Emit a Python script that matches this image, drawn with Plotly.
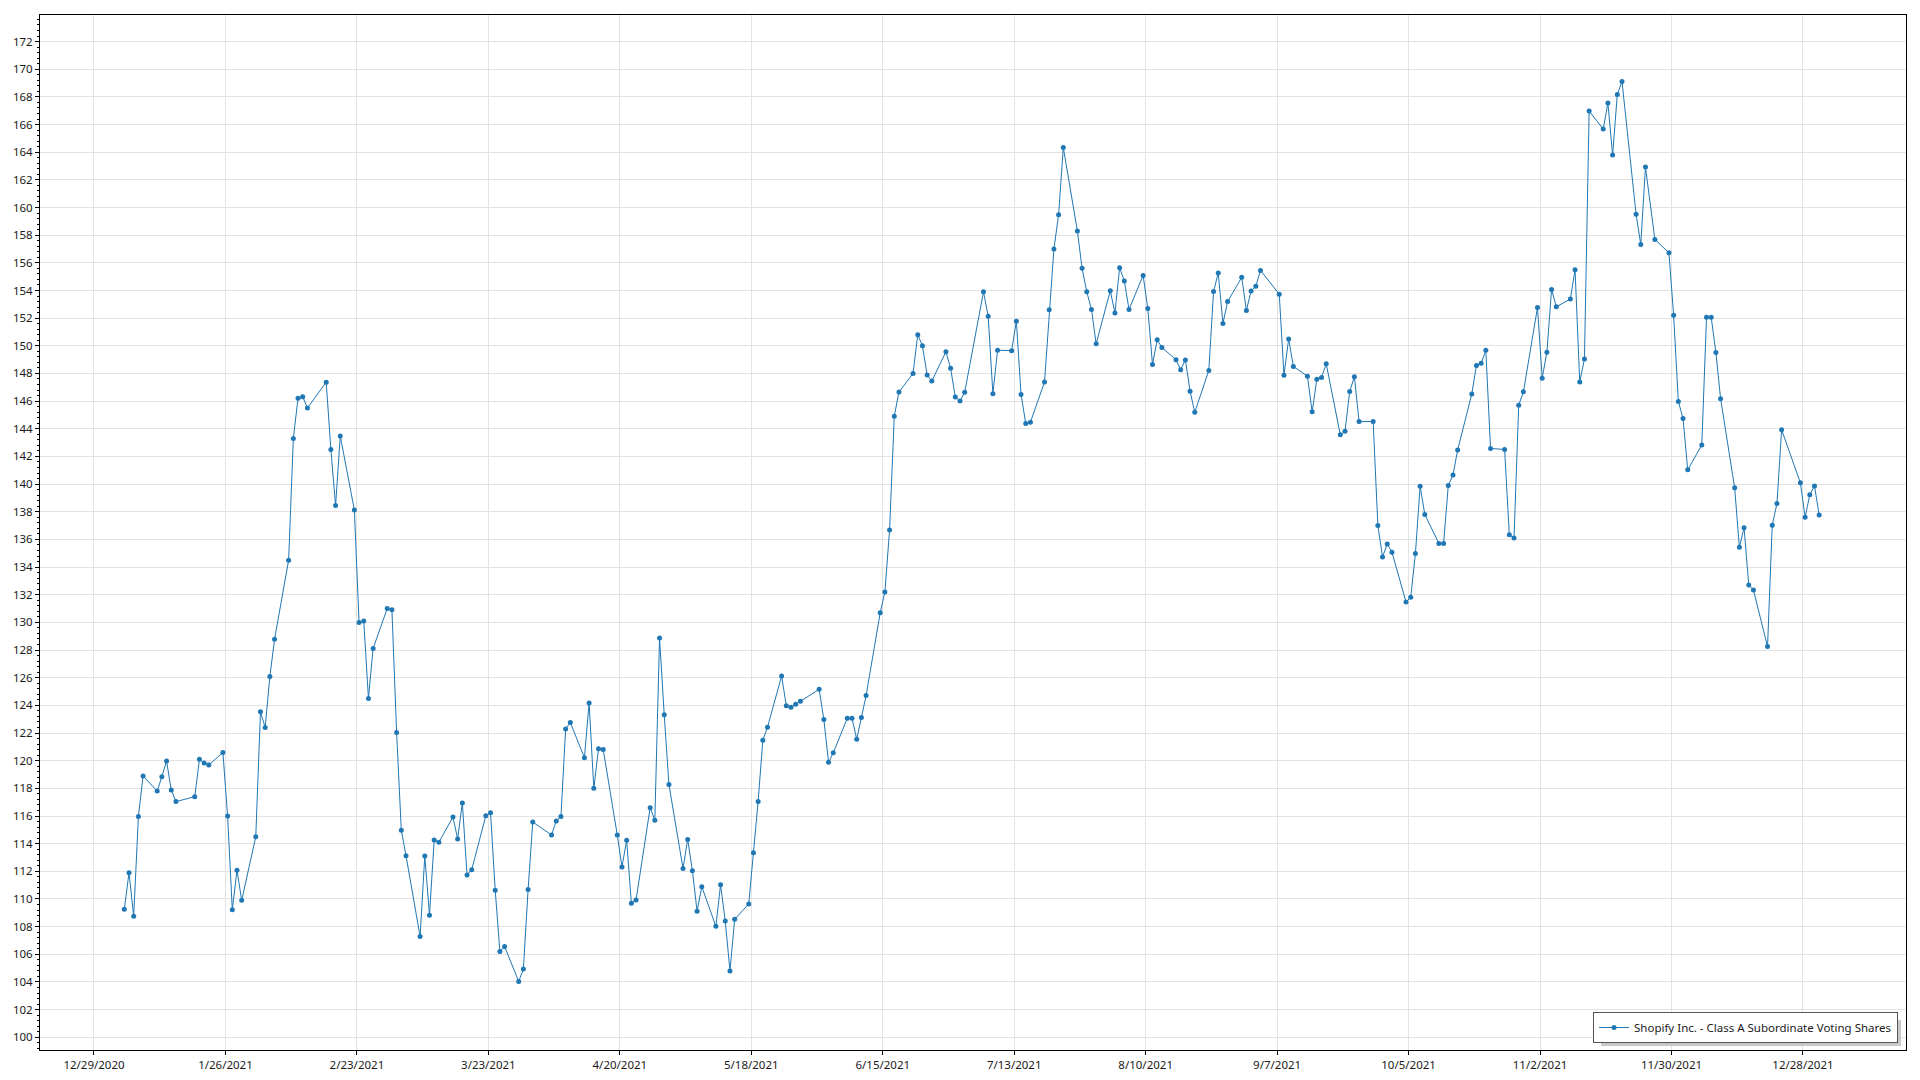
import pandas as pd
import plotly.graph_objects as go

SERIES_NAME = "Shopify Inc. - Class A Subordinate Voting Shares"

dates = [
    "2021-01-04", "2021-01-05", "2021-01-06", "2021-01-07", "2021-01-08", "2021-01-11", "2021-01-12",
    "2021-01-13", "2021-01-14", "2021-01-15", "2021-01-19", "2021-01-20", "2021-01-21", "2021-01-22",
    "2021-01-25", "2021-01-26", "2021-01-27", "2021-01-28", "2021-01-29",
    "2021-02-01", "2021-02-02", "2021-02-03", "2021-02-04", "2021-02-05", "2021-02-08", "2021-02-09",
    "2021-02-10", "2021-02-11", "2021-02-12", "2021-02-16", "2021-02-17", "2021-02-18", "2021-02-19",
    "2021-02-22", "2021-02-23", "2021-02-24", "2021-02-25", "2021-02-26",
    "2021-03-01", "2021-03-02", "2021-03-03", "2021-03-04", "2021-03-05", "2021-03-08", "2021-03-09",
    "2021-03-10", "2021-03-11", "2021-03-12", "2021-03-15", "2021-03-16", "2021-03-17", "2021-03-18",
    "2021-03-19", "2021-03-22", "2021-03-23", "2021-03-24", "2021-03-25", "2021-03-26", "2021-03-29",
    "2021-03-30", "2021-03-31",
    "2021-04-01", "2021-04-05", "2021-04-06", "2021-04-07", "2021-04-08", "2021-04-09", "2021-04-12",
    "2021-04-13", "2021-04-14", "2021-04-15", "2021-04-16", "2021-04-19", "2021-04-20", "2021-04-21",
    "2021-04-22", "2021-04-23", "2021-04-26", "2021-04-27", "2021-04-28", "2021-04-29", "2021-04-30",
    "2021-05-03", "2021-05-04", "2021-05-05", "2021-05-06", "2021-05-07", "2021-05-10", "2021-05-11",
    "2021-05-12", "2021-05-13", "2021-05-14", "2021-05-17", "2021-05-18", "2021-05-19", "2021-05-20",
    "2021-05-21", "2021-05-24", "2021-05-25", "2021-05-26", "2021-05-27", "2021-05-28",
    "2021-06-01", "2021-06-02", "2021-06-03", "2021-06-04", "2021-06-07", "2021-06-08", "2021-06-09",
    "2021-06-10", "2021-06-11", "2021-06-14", "2021-06-15", "2021-06-16", "2021-06-17", "2021-06-18",
    "2021-06-21", "2021-06-22", "2021-06-23", "2021-06-24", "2021-06-25", "2021-06-28", "2021-06-29",
    "2021-06-30",
    "2021-07-01", "2021-07-02", "2021-07-06", "2021-07-07", "2021-07-08", "2021-07-09", "2021-07-12",
    "2021-07-13", "2021-07-14", "2021-07-15", "2021-07-16", "2021-07-19", "2021-07-20", "2021-07-21",
    "2021-07-22", "2021-07-23", "2021-07-26", "2021-07-27", "2021-07-28", "2021-07-29", "2021-07-30",
    "2021-08-02", "2021-08-03", "2021-08-04", "2021-08-05", "2021-08-06", "2021-08-09", "2021-08-10",
    "2021-08-11", "2021-08-12", "2021-08-13", "2021-08-16", "2021-08-17", "2021-08-18", "2021-08-19",
    "2021-08-20", "2021-08-23", "2021-08-24", "2021-08-25", "2021-08-26", "2021-08-27", "2021-08-30",
    "2021-08-31",
    "2021-09-01", "2021-09-02", "2021-09-03", "2021-09-07", "2021-09-08", "2021-09-09", "2021-09-10",
    "2021-09-13", "2021-09-14", "2021-09-15", "2021-09-16", "2021-09-17", "2021-09-20", "2021-09-21",
    "2021-09-22", "2021-09-23", "2021-09-24", "2021-09-27", "2021-09-28", "2021-09-29", "2021-09-30",
    "2021-10-01", "2021-10-04", "2021-10-05", "2021-10-06", "2021-10-07", "2021-10-08", "2021-10-11",
    "2021-10-12", "2021-10-13", "2021-10-14", "2021-10-15", "2021-10-18", "2021-10-19", "2021-10-20",
    "2021-10-21", "2021-10-22", "2021-10-25", "2021-10-26", "2021-10-27", "2021-10-28", "2021-10-29",
    "2021-11-01", "2021-11-02", "2021-11-03", "2021-11-04", "2021-11-05", "2021-11-08", "2021-11-09",
    "2021-11-10", "2021-11-11", "2021-11-12", "2021-11-15", "2021-11-16", "2021-11-17", "2021-11-18",
    "2021-11-19", "2021-11-22", "2021-11-23", "2021-11-24", "2021-11-26", "2021-11-29", "2021-11-30",
    "2021-12-01", "2021-12-02", "2021-12-03", "2021-12-06", "2021-12-07", "2021-12-08", "2021-12-09",
    "2021-12-10", "2021-12-13", "2021-12-14", "2021-12-15", "2021-12-16", "2021-12-17", "2021-12-20",
    "2021-12-21", "2021-12-22", "2021-12-23", "2021-12-27", "2021-12-28", "2021-12-29", "2021-12-30",
    "2021-12-31",
]

closes = [
    # Jan
    109.26, 111.90, 108.75, 115.96, 118.90, 117.80, 118.84, 119.98, 117.88, 117.04, 117.40, 120.10,
    119.83, 119.68, 120.60, 116.00, 109.23, 112.07, 109.90,
    # Feb
    114.50, 123.54, 122.40, 126.08, 128.78, 134.50, 143.30, 146.20, 146.32, 145.50, 147.37, 142.50,
    138.45, 143.48, 138.12, 130.00, 130.10, 124.50, 128.12,
    # Mar
    131.00, 130.92, 122.03, 114.97, 113.13, 107.29, 113.11, 108.83, 114.26, 114.10, 115.93, 114.34,
    116.94, 111.74, 112.12, 116.02, 116.24, 110.63, 106.20, 106.56, 104.04, 104.93, 110.68,
    # Apr
    115.56, 114.63, 115.64, 115.97, 122.30, 122.76, 120.21, 124.18, 118.00, 120.86, 120.81, 114.63,
    112.32, 114.24, 109.69, 109.93, 116.60, 115.70, 128.88, 123.32, 118.27,
    # May
    112.21, 114.31, 112.05, 109.11, 110.89, 108.03, 111.03, 108.41, 104.80, 108.53, 109.64, 113.35,
    117.05, 121.48, 122.42, 126.13, 123.98, 123.86, 124.08, 124.30,
    # Jun
    125.16, 122.97, 119.89, 120.57, 123.07, 123.07, 121.55, 123.12, 124.71, 130.70, 132.19, 136.68,
    144.91, 146.66, 148.00, 150.80, 150.00, 147.88, 147.45, 149.57, 148.37, 146.29,
    # Jul
    146.00, 146.65, 153.91, 152.14, 146.53, 149.68, 149.65, 151.78, 146.48, 144.38, 144.48, 147.38,
    152.60, 157.00, 159.47, 164.33, 158.31, 155.60, 153.91, 152.63, 150.14,
    # Aug
    153.98, 152.38, 155.65, 154.68, 152.63, 155.09, 152.70, 148.65, 150.43, 149.88, 148.99, 148.27,
    148.98, 146.72, 145.19, 148.22, 153.92, 155.26, 151.62, 153.20, 154.95, 152.56,
    # Sep
    153.97, 154.30, 155.45, 153.73, 147.87, 150.50, 148.51, 147.80, 145.23, 147.58, 147.70, 148.70,
    143.56, 143.82, 146.69, 147.77, 144.52, 144.52, 137.00, 134.73, 135.67,
    # Oct
    135.08, 131.47, 131.82, 134.98, 139.85, 137.81, 135.70, 135.70, 139.90, 140.65, 142.47, 146.51,
    148.57, 148.73, 149.67, 142.58, 142.50, 136.34, 136.10, 145.71, 146.67,
    # Nov
    152.77, 147.66, 149.53, 154.08, 152.82, 153.38, 155.50, 147.39, 149.05, 166.98, 165.67, 167.55,
    163.80, 168.17, 169.11, 159.51, 157.33, 162.92, 157.69, 156.72, 152.21,
    # Dec
    145.98, 144.74, 141.03, 142.83, 152.07, 152.07, 149.52, 146.18, 139.73, 135.44, 136.85, 132.70,
    132.34, 128.25, 137.02, 138.59, 143.93, 140.09, 137.60, 139.23, 139.87, 137.76,
]

x_tick_labels = [
    "12/29/2020", "1/26/2021", "2/23/2021", "3/23/2021", "4/20/2021", "5/18/2021", "6/15/2021",
    "7/13/2021", "8/10/2021", "9/7/2021", "10/5/2021", "11/2/2021", "11/30/2021", "12/28/2021",
]
y_ticks = list(range(100, 173, 2))

# ---- layout helpers (positions / styles) ----
W, H = 1920, 1080
ML, MR, MT, MB = 40, 14, 15, 30
PW, PH = W - ML - MR, H - MT - MB

shift = pd.Timedelta(hours=11)  # gridlines sit slightly left of the daily points
tick_pos = [pd.to_datetime(t, format="%m/%d/%Y") - shift for t in x_tick_labels]
x_left = tick_pos[0] - pd.Timedelta(days=11.5)
x_right = tick_pos[0] + pd.Timedelta(days=385.95)

FONT = "Noto Sans, Segoe UI, sans-serif"
BLUE = "#1f77b4"
GRID = "#e3e3e3"


def px_x(p):
    return (p - ML) / PW


def px_y(p):
    return (H - MB - p) / PH


# legend box (pixel coords in the page) and its drop shadow
LEG_R, LEG_B = 1898, 1043
SH_L, SH_R, SH_T, SH_B = 1601, 1901, 1020, 1046

fig = go.Figure()
fig.add_trace(go.Scatter(
    x=pd.to_datetime(dates),
    y=closes,
    mode="lines+markers",
    name=SERIES_NAME,
    line=dict(color=BLUE, width=1),
    marker=dict(color=BLUE, size=5),
    showlegend=True,
))

fig.add_shape(
    type="rect", xref="paper", yref="paper",
    x0=px_x(SH_L), x1=px_x(SH_R), y0=px_y(SH_B), y1=px_y(SH_T),
    fillcolor="#c8c8c8", line=dict(width=0), layer="above",
)

fig.update_layout(
    width=W,
    height=H,
    autosize=False,
    margin=dict(l=ML, r=MR, t=MT, b=MB, pad=0),
    paper_bgcolor="white",
    plot_bgcolor="white",
    font=dict(family=FONT, size=11.5, color="#1a1a1a"),
    showlegend=True,
    legend=dict(
        x=px_x(LEG_R), y=px_y(LEG_B), xanchor="right", yanchor="bottom",
        bgcolor="white", bordercolor="#555555", borderwidth=1,
        font=dict(family=FONT, size=11.5, color="#1a1a1a"),
        itemwidth=30,
    ),
    xaxis=dict(
        type="date",
        range=[x_left, x_right],
        tickmode="array",
        tickvals=tick_pos,
        ticktext=x_tick_labels,
        showgrid=True, gridcolor=GRID, gridwidth=1,
        showline=True, linecolor="black", linewidth=1, mirror=True,
        ticks="outside", ticklen=4, tickcolor="black",
        zeroline=False, automargin=False,
    ),
    yaxis=dict(
        range=[99.08, 173.92],
        tickmode="array",
        tickvals=y_ticks,
        ticktext=[str(v) for v in y_ticks],
        showgrid=True, gridcolor=GRID, gridwidth=1,
        showline=True, linecolor="black", linewidth=1, mirror=True,
        ticks="outside", ticklen=4, tickcolor="black",
        minor=dict(dtick=0.4, tick0=100, ticks="outside", ticklen=2, tickcolor="black", showgrid=False),
        zeroline=False, automargin=False,
    ),
)

fig.write_html(
    "out.html",
    config={"displayModeBar": False},
    post_script="document.body.style.margin='0';document.body.style.overflow='hidden';",
)
